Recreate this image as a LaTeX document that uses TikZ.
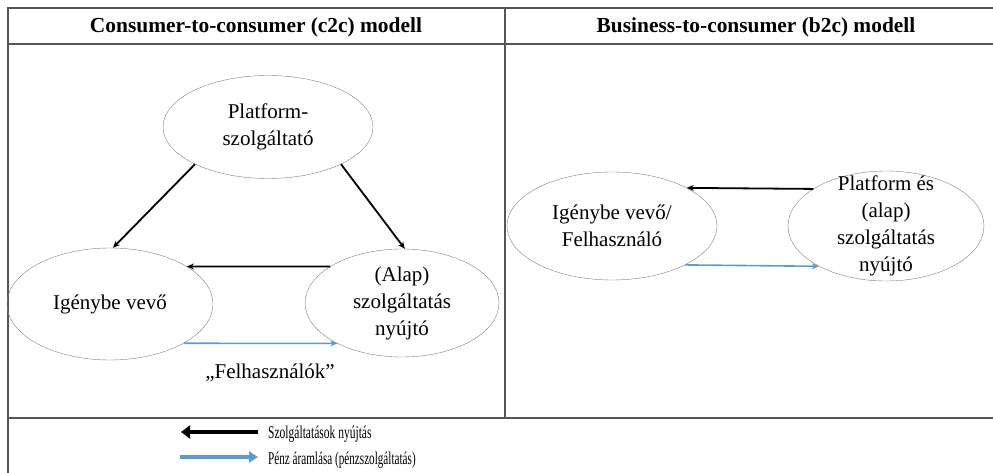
\documentclass[tikz,border=0pt]{standalone}
\usepackage{fontspec}
\setmainfont{Liberation Serif}
\usepackage{tikz}
\usepackage{xcolor}
\usetikzlibrary{shapes.geometric,arrows.meta}

\definecolor{moneyblue}{RGB}{91,155,213}
\definecolor{rulegray}{RGB}{85,85,85}

\begin{document}
\begin{tikzpicture}[x=1pt,y=-1pt,
	actor/.style={ellipse,draw=gray,thin,inner sep=-30pt,align=center,font=\fontsize{21}{27}\selectfont},
	serv/.style={black,line width=1.8pt,-{Stealth[length=7pt,width=6pt]}},
	money/.style={moneyblue,line width=1.6pt,-{Stealth[length=7pt,width=6pt]}},
	servkey/.style={black,line width=4pt,-{Triangle[length=9pt,width=13pt]}},
	moneykey/.style={moneyblue,line width=4pt,-{Triangle[length=9pt,width=11pt]}},
	legend/.style={anchor=west,inner sep=0pt,font=\fontsize{18}{20}\selectfont},
	rule/.style={rulegray,line width=1.2pt}]
	\useasboundingbox (0,0) rectangle (993,473);
	% table lines
	\draw[rule] (8,473) -- (8,8) -- (993,8);
	\draw[rule] (8,44) -- (993,44);
	\draw[rule] (8,418) -- (993,418);
	\draw[rule] (505,8) -- (505,418);
	\node[font=\bfseries\fontsize{21.4}{24}\selectfont] (c2chead) at (256,27) {Consumer-to-consumer (c2c) modell};
	\node[font=\bfseries\fontsize{21.4}{24}\selectfont] (b2chead) at (756,27) {Business-to-consumer (b2c) modell};
	% c2c
	\node[actor,minimum width=210pt,minimum height=103pt] (plat) at (268,127) {Platform-\\szolgáltató};
	\node[actor,minimum width=206pt,minimum height=112pt] (igeny) at (110,304) {Igénybe vevő};
	\node[actor,minimum width=194pt,minimum height=108pt] (alap) at (402,303) {(Alap)\\szolgáltatás\\nyújtó};
	\draw[serv] (plat.207) -- (igeny.87);
	\draw[serv] (plat.333) -- (alap.87);
	\draw[serv] (alap.153) -- (igeny.26);
	\draw[money] (igeny.332) -- (alap.212);
	\node[font=\fontsize{21}{24}\selectfont] (felh) at (270,373) {„Felhasználók”};
	% b2c
	\node[actor,minimum width=210pt,minimum height=108pt] (user) at (612,226) {Igénybe vevő/\\Felhasználó};
	\node[actor,minimum width=196pt,minimum height=110pt] (prov) at (886,226) {Platform és\\(alap)\\szolgáltatás\\nyújtó};
	\draw[serv] (prov.153) -- (user.27);
	\draw[money] (user.332) -- (prov.211);
	% legend
	\node[legend] (servtext) at (268,434) {\scalebox{0.64}[1]{Szolgáltatások nyújtás}};
	\node[legend] (moneytext) at (268,460) {\scalebox{0.62}[1]{Pénz áramlása (pénzszolgáltatás)}};
	\coordinate (servend) at (181,432);
	\coordinate (moneystart) at (180,457);
	\draw[servkey] ([xshift=-10pt]servtext.west |- servend) -- (servend);
	\draw[moneykey] (moneystart) -- ([xshift=-10pt]moneytext.west |- moneystart);
\end{tikzpicture}
\end{document}
